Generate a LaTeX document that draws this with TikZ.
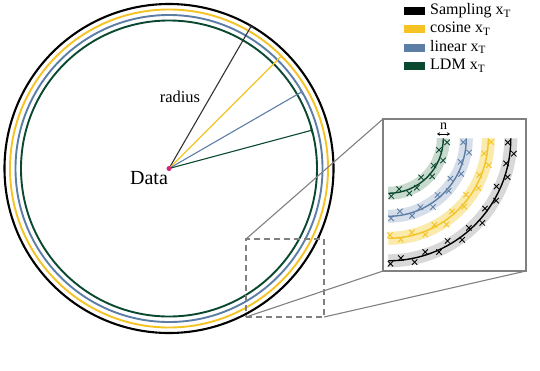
\documentclass[tikz,border=0pt]{standalone}
\usepackage{fontspec}
\setmainfont{Liberation Serif}
\usetikzlibrary{arrows.meta,calc}
\definecolor{cK}{RGB}{0,0,0}
\definecolor{cY}{RGB}{245,195,35}
\definecolor{cB}{RGB}{92,126,166}
\definecolor{cG}{RGB}{10,72,48}
\definecolor{bY}{RGB}{250,234,172}
\definecolor{bB}{RGB}{214,222,234}
\definecolor{bG}{RGB}{200,218,206}
\definecolor{bK}{RGB}{216,216,216}
\definecolor{framec}{RGB}{128,128,128}
\definecolor{dotc}{RGB}{214,36,122}
\tikzset{
  ring/.style={line width=1.9pt},
  spoke/.style={line width=1.1pt,-{Bar[width=6pt,line width=1.1pt]}},
  band/.style={line width=13pt},
  inarc/.style={line width=1.4pt},
  xm/.style={line width=0.85pt},
  swatch/.style={minimum width=21pt,minimum height=8pt,inner sep=0pt,outer sep=0pt},
  legtext/.style={anchor=base west,inner sep=0pt,font=\fontsize{16}{19}\selectfont},
  dashbox/.style={draw=framec,dashed,dash pattern=on 6pt off 4pt,line width=1.4pt,minimum width=78pt,minimum height=78pt,inner sep=0pt,outer sep=0pt},
  insetbox/.style={draw=framec,line width=1.4pt,fill=white,minimum width=143pt,minimum height=152pt,inner sep=0pt,outer sep=0pt},
  link/.style={draw=framec,line width=1.1pt},
}
\newcommand{\xmark}[3]{\draw[xm,#1] ($(C)+(#2)$) +(-2.7,-2.7) -- +(2.7,2.7) +(-2.7,2.7) -- +(2.7,-2.7);}
\begin{document}
\begin{tikzpicture}[x=1pt,y=-1pt]
\useasboundingbox (0,0) rectangle (540,370);
% data point
\coordinate (c) at (169,168.5);
% rings
\draw[ring,cG] (c) circle[radius=148];
\draw[ring,cB] (c) circle[radius=153.5];
\draw[ring,cY] (c) circle[radius=159];
\draw[ring,cK,line width=2.1pt] (c) circle[radius=164.5];
% spokes
\coordinate (eK) at ($(c)+(-60:164.5)$);
\coordinate (eY) at ($(c)+(-45:159)$);
\coordinate (eB) at ($(c)+(-30:153.5)$);
\coordinate (eG) at ($(c)+(-15:148)$);
\draw[spoke,black!80] (c) -- (eK);
\draw[spoke,cY] (c) -- (eY);
\draw[spoke,cB] (c) -- (eB);
\draw[spoke,cG] (c) -- (eG);
\node[circle,fill=dotc,inner sep=0pt,minimum size=5pt] (dot) at (c) {};
\node[anchor=base,inner sep=0pt,font=\fontsize{20}{24}\selectfont] (dl) at (149,184) {Data};
\node[anchor=base,inner sep=0pt,font=\fontsize{16.5}{20}\selectfont] (rl) at (180,102.5) {radius};
% zoom box and inset
\node[dashbox] (zb) at (285,278) {};
\node[insetbox] (ib) at (454.5,195) {};
\draw[link] (zb.north west) -- (ib.north west);
\draw[link] (zb.south west) -- (ib.south west);
\draw[link] (zb.south east) -- (ib.south east);
% inset content
\coordinate (C) at (388.3,138.3);
\draw[band,bG] ($(C)+(0:55)$) arc[start angle=0,end angle=90,radius=55];
\draw[band,bB] ($(C)+(0:78)$) arc[start angle=0,end angle=90,radius=78];
\draw[band,bY] ($(C)+(0:100)$) arc[start angle=0,end angle=90,radius=100];
\draw[band,bK] ($(C)+(0:122.5)$) arc[start angle=0,end angle=90,radius=122.5];
\draw[inarc,cG] ($(C)+(0:55)$) arc[start angle=0,end angle=90,radius=55];
\draw[inarc,cB] ($(C)+(0:78)$) arc[start angle=0,end angle=90,radius=78];
\draw[inarc,cY] ($(C)+(0:100)$) arc[start angle=0,end angle=90,radius=100];
\draw[inarc,cK] ($(C)+(0:122.5)$) arc[start angle=0,end angle=90,radius=122.5];
\foreach \a/\o in {4/4,13/-3,22/4,31/-2,41/3,50/-4,60/2,69/4,78/-3,87/3}
  {\xmark{cG}{\a:55+\o}{}}
\foreach \a/\o in {3/-3,10/4,18/-2,26/3,33/-4,41/2,49/-3,57/4,65/-2,73/3,81/-4,88/2}
  {\xmark{cB}{\a:78+\o}{}}
\foreach \a/\o in {2/3,9/-3,15/4,22/-2,29/3,36/-4,42/2,49/-3,56/4,62/-2,69/3,76/-3,83/2,89/-3}
  {\xmark{cY}{\a:100+\o}{}}
\foreach \a/\o in {2/-3,7/4,12/-2,18/3,24/-4,30/2,36/-3,42/4,48/-2,54/3,60/-4,66/2,72/-3,78/4,84/-2,89/3}
  {\xmark{cK}{\a:122.5+\o}{}}
\coordinate (nl) at (437,134);
\coordinate (nr) at (450,134);
\draw[line width=0.8pt,{Stealth[length=3pt,width=3.5pt]}-{Stealth[length=3pt,width=3.5pt]}] (nl) -- (nr);
\node[anchor=base,inner sep=0pt,font=\fontsize{14}{16}\selectfont] (nn) at (443.5,129.5) {n};
% legend
\node[swatch,fill=cK] (lk) at (414.5,10.7) {};
\node[swatch,fill=cY] (ly) at (414.5,29.1) {};
\node[swatch,fill=cB] (lb) at (414.5,47.5) {};
\node[swatch,fill=cG] (lg) at (414.5,66) {};
\node[legtext] (tk) at (430,14.5) {Sampling x\textsubscript{T}};
\node[legtext] (ty) at (430,32.9) {cosine x\textsubscript{T}};
\node[legtext] (tb) at (430,51.3) {linear x\textsubscript{T}};
\node[legtext] (tg) at (430,69.8) {LDM x\textsubscript{T}};
\end{tikzpicture}
\end{document}
